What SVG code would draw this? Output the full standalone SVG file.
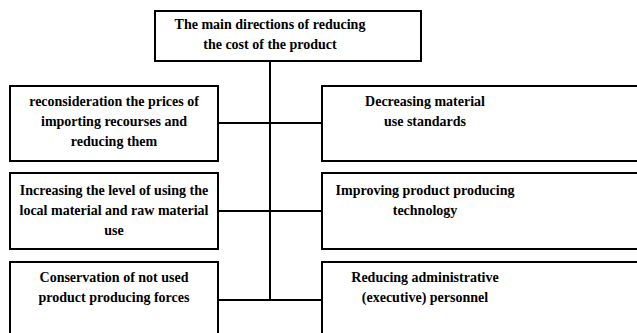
<svg xmlns="http://www.w3.org/2000/svg" width="637" height="333" viewBox="0 0 637 333">
<style>
.box{fill:#fff;stroke:#000;stroke-width:2}
.ln{stroke:#000;stroke-width:2;fill:none}
.t{font-family:'Liberation Serif','Times New Roman',serif;font-weight:700;font-size:14px;fill:#000;text-anchor:middle}
</style>
<rect width="637" height="333" fill="#fff"/>
<g id="connectors">
<line class="ln" x1="270" y1="61" x2="270" y2="300"/>
<line class="ln" x1="218" y1="123" x2="322" y2="123"/>
<line class="ln" x1="218" y1="211" x2="322" y2="211"/>
<line class="ln" x1="218" y1="300" x2="322" y2="300"/>
</g>
<g id="root">
<rect class="box" x="155" y="11" width="266" height="50"/>
<text class="t" x="270" y="29">The main directions of reducing</text>
<text class="t" x="270" y="49">the cost of the product</text>
</g>
<g id="left1">
<rect class="box" x="10" y="86" width="208" height="75"/>
<text class="t" x="114" y="106">reconsideration the prices of</text>
<text class="t" x="114" y="126">importing recourses and</text>
<text class="t" x="114" y="146">reducing them</text>
</g>
<g id="right1">
<rect class="box" x="322" y="86" width="330" height="75"/>
<text class="t" x="425" y="106">Decreasing material</text>
<text class="t" x="425" y="126">use standards</text>
</g>
<g id="left2">
<rect class="box" x="10" y="173" width="208" height="76"/>
<text class="t" x="114" y="195">Increasing the level of using the</text>
<text class="t" x="114" y="215">local material and raw material</text>
<text class="t" x="114" y="235">use</text>
</g>
<g id="right2">
<rect class="box" x="322" y="173" width="330" height="76"/>
<text class="t" x="425" y="195">Improving product producing</text>
<text class="t" x="425" y="215">technology</text>
</g>
<g id="left3">
<rect class="box" x="10" y="262" width="208" height="85"/>
<text class="t" x="114" y="282">Conservation of not used</text>
<text class="t" x="114" y="302">product producing forces</text>
</g>
<g id="right3">
<rect class="box" x="322" y="262" width="330" height="85"/>
<text class="t" x="425" y="282">Reducing administrative</text>
<text class="t" x="425" y="302">(executive) personnel</text>
</g>
</svg>
